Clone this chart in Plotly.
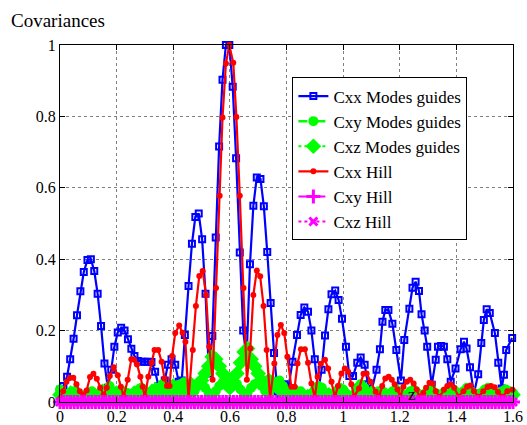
import numpy as np
import plotly.graph_objects as go

# ---- data ----
cxx_modes_x = [0.000,0.012,0.025,0.036,0.048,0.060,0.072,0.084,0.097,0.109,0.121,0.133,0.145,0.157,0.169,0.181,0.192,0.204,0.216,0.228,0.240,0.252,0.263,0.275,0.287,0.299,0.311,0.323,0.336,0.348,0.360,0.370,0.381,0.394,0.407,0.419,0.430,0.441,0.454,0.466,0.478,0.490,0.502,0.514,0.526,0.538,0.550,0.562,0.574,0.586,0.598,0.610,0.622,0.635,0.647,0.659,0.671,0.683,0.695,0.708,0.720,0.732,0.744,0.756,0.768,0.780,0.793,0.805,0.821,0.837,0.850,0.863,0.876,0.888,0.900,0.912,0.924,0.936,0.948,0.959,0.972,0.984,0.996,1.010,1.022,1.035,1.050,1.062,1.076,1.088,1.100,1.118,1.130,1.139,1.149,1.160,1.174,1.188,1.204,1.216,1.234,1.245,1.256,1.268,1.277,1.288,1.297,1.313,1.327,1.335,1.346,1.356,1.368,1.380,1.397,1.415,1.427,1.436,1.448,1.462,1.477,1.488,1.497,1.507,1.518,1.536,1.548,1.560,1.568,1.576,1.597]
cxx_modes_y = [0.034,0.045,0.071,0.120,0.177,0.243,0.310,0.364,0.398,0.400,0.367,0.303,0.213,0.108,0.040,0.090,0.155,0.195,0.208,0.200,0.176,0.149,0.129,0.115,0.113,0.113,0.113,0.112,0.085,0.045,0.030,0.060,0.104,0.120,0.104,0.057,0.060,0.188,0.325,0.443,0.518,0.528,0.456,0.303,0.080,0.185,0.461,0.716,0.903,1.000,1.000,0.883,0.683,0.419,0.200,0.123,0.386,0.550,0.629,0.625,0.548,0.420,0.277,0.137,0.030,0.020,0.050,0.030,0.113,0.188,0.244,0.265,0.253,0.200,0.120,0.030,0.090,0.186,0.260,0.302,0.312,0.286,0.233,0.155,0.073,0.073,0.110,0.125,0.104,0.050,0.030,0.090,0.148,0.225,0.258,0.258,0.219,0.146,0.060,0.174,0.261,0.320,0.337,0.311,0.246,0.200,0.155,0.048,0.118,0.155,0.157,0.155,0.120,0.057,0.094,0.148,0.169,0.150,0.097,0.024,0.078,0.165,0.230,0.260,0.249,0.193,0.110,0.038,0.076,0.146,0.179]

cxx_hill_x = [0.000,0.011,0.023,0.035,0.047,0.058,0.070,0.082,0.094,0.106,0.118,0.130,0.142,0.154,0.165,0.176,0.190,0.204,0.215,0.225,0.239,0.252,0.262,0.272,0.284,0.292,0.300,0.312,0.324,0.334,0.347,0.359,0.369,0.378,0.387,0.396,0.407,0.421,0.433,0.443,0.454,0.469,0.480,0.492,0.504,0.516,0.527,0.539,0.551,0.564,0.574,0.586,0.598,0.612,0.623,0.635,0.648,0.660,0.672,0.683,0.695,0.707,0.719,0.730,0.742,0.757,0.768,0.780,0.792,0.803,0.817,0.829,0.839,0.851,0.865,0.876,0.888,0.900,0.910,0.921,0.936,0.947,0.959,0.971,0.982,0.994,1.006,1.018,1.029,1.039,1.056,1.072,1.083,1.097,1.115,1.127,1.138,1.149,1.161,1.172,1.182,1.192,1.202,1.213,1.225,1.237,1.249,1.260,1.270,1.283,1.293,1.305,1.316,1.327,1.340,1.356,1.368,1.380,1.392,1.408,1.425,1.438,1.450,1.462,1.478,1.495,1.510,1.522,1.535,1.547,1.562,1.580,1.598]
cxx_hill_y = [0.010,0.030,0.057,0.068,0.068,0.050,0.030,0.020,0.032,0.070,0.079,0.065,0.040,0.020,0.040,0.073,0.097,0.075,0.043,0.015,0.062,0.120,0.118,0.105,0.071,0.043,0.015,0.071,0.110,0.146,0.146,0.113,0.066,0.045,0.045,0.129,0.193,0.214,0.194,0.169,0.008,0.146,0.269,0.353,0.367,0.300,0.155,0.062,0.319,0.578,0.797,0.948,1.000,0.950,0.798,0.578,0.319,0.062,0.150,0.300,0.368,0.352,0.269,0.146,0.010,0.108,0.188,0.216,0.193,0.127,0.043,0.043,0.108,0.148,0.148,0.110,0.052,0.013,0.071,0.107,0.118,0.094,0.057,0.015,0.045,0.080,0.094,0.085,0.050,0.015,0.038,0.079,0.080,0.057,0.029,0.015,0.045,0.066,0.071,0.062,0.050,0.035,0.015,0.043,0.057,0.062,0.052,0.035,0.015,0.025,0.040,0.054,0.052,0.030,0.015,0.034,0.045,0.050,0.040,0.015,0.030,0.043,0.046,0.030,0.015,0.030,0.042,0.045,0.041,0.028,0.015,0.030,0.034]

cxy_modes_y = [0.035,0.025,0.015,0.020,0.030,0.020,0.010,0.015,0.025,0.030,0.020,0.010,0.020,0.035,0.045,0.030,0.015,0.020,0.030,0.025,0.010,0.015,0.030,0.040,0.030,0.015,0.010,0.025,0.040,0.050,0.040,0.020,0.010,0.030,0.050,0.055,
               0.040,0.020,0.030,0.045,0.050,0.040,0.025,0.015,0.030,0.045,0.055,0.062,0.065,0.060,0.050,0.035,0.020,0.025,0.040,0.050,0.055,0.045,0.030,0.020,0.040,0.055,0.060,0.045,0.030,0.020,0.015,0.025,0.030,0.020,0.010,0.020,0.035,0.045,0.040,0.025,0.015,0.020,0.030,0.040,0.035,0.020,0.010,0.020,0.040,0.050,0.040,0.025,0.015,0.020,0.030,0.025,0.015,0.020,0.030,0.035,0.025,0.015,0.020,0.030,0.035,0.025,0.015,0.020,0.030,0.035,0.025,0.015,0.020,0.030,0.035,0.025,0.015,0.020,0.030,0.040,0.030,0.020,0.015,0.025,0.035,0.040,0.030,0.020,0.015,0.025,0.035,0.030,0.025]
cxz_modes_y = [0.020,0.010,0.015,0.025,0.020,0.010,0.005,0.015,0.020,0.015,0.010,0.020,0.030,0.020,0.010,0.015,0.025,0.020,0.010,0.005,0.015,0.025,0.030,0.020,0.010,0.015,0.030,0.035,0.025,0.015,0.020,0.035,0.045,0.035,0.020,0.030,0.045,0.050,0.040,0.050,
               0.060,0.080,0.100,0.127,0.120,0.100,0.080,0.050,0.040,0.050,0.080,0.110,0.140,0.150,0.120,0.100,0.080,0.060,0.050,
               0.060,0.055,0.045,0.035,0.030,0.020,0.015,0.020,0.025,0.020,0.010,0.015,0.020,0.025,0.020,0.010,0.015,0.020,0.015,0.010,0.020,0.025,0.020,0.010,0.015,0.020,0.015,0.010,0.020,0.025,0.015,0.010,0.015,0.020,0.015,0.010,0.020,0.020,0.015,0.010,0.015,0.020,0.015,0.010,0.020,0.025,0.015,0.010,0.015,0.020,0.015,0.010,0.020,0.025,0.015,0.010,0.015,0.020,0.020,0.010,0.015,0.020,0.025,0.020,0.015,0.020,0.025,0.020,0.015,0.020]
cxy_hill_y = [0.0] * 129
cxz_hill_y = [0.0] * 129

x_ticks = [0, 0.2, 0.4, 0.6, 0.8, 1.0, 1.2, 1.4, 1.6]
x_tick_labels = ["0", "0.2", "0.4", "0.6", "0.8", "1", "1.2", "1.4", "1.6"]
y_ticks = [0, 0.2, 0.4, 0.6, 0.8, 1.0]
y_tick_labels = ["0", "0.2", "0.4", "0.6", "0.8", "1"]

names = ["Cxx Modes guides", "Cxy Modes guides", "Cxz Modes guides", "Cxx Hill", "Cxy Hill", "Cxz Hill"]

FONT = "Liberation Serif"
BLUE = "#0000ff"
GREEN = "#00ff00"
RED = "#ff0000"
MAG = "#ff00ff"

fig = go.Figure()

fig.add_trace(go.Scatter(
    x=cxx_modes_x, y=cxx_modes_y, name=names[0], mode="lines+markers",
    line=dict(color=BLUE, width=2.2),
    marker=dict(symbol="square-open", size=6, color=BLUE, line=dict(width=2, color=BLUE)),
    cliponaxis=False))

gx1 = np.linspace(0, 1.6, len(cxy_modes_y))
fig.add_trace(go.Scatter(
    x=gx1, y=cxy_modes_y, name=names[1], mode="lines+markers",
    line=dict(color=GREEN, width=2.5, dash="dash"),
    marker=dict(symbol="circle", size=10, color=GREEN),
    cliponaxis=False))

gx2 = np.linspace(0, 1.6, len(cxz_modes_y))
fig.add_trace(go.Scatter(
    x=gx2, y=cxz_modes_y, name=names[2], mode="lines+markers",
    line=dict(color=GREEN, width=2, dash="dot"),
    marker=dict(symbol="diamond", size=12, color=GREEN),
    cliponaxis=False))

fig.add_trace(go.Scatter(
    x=cxx_hill_x, y=cxx_hill_y, name=names[3], mode="lines+markers",
    line=dict(color=RED, width=2.2),
    marker=dict(symbol="circle", size=6, color=RED),
    cliponaxis=False))

mx1 = np.linspace(0, 1.6, len(cxy_hill_y))
fig.add_trace(go.Scatter(
    x=mx1, y=cxy_hill_y, name=names[4], mode="lines+markers",
    line=dict(color=MAG, width=2, dash="dash"),
    marker=dict(symbol="cross-thin-open", size=10, color=MAG, line=dict(width=3, color=MAG)),
    cliponaxis=False))

mx2 = np.linspace(0, 1.6, len(cxz_hill_y))
fig.add_trace(go.Scatter(
    x=mx2, y=cxz_hill_y, name=names[5], mode="lines+markers",
    line=dict(color=MAG, width=2, dash="dot"),
    marker=dict(symbol="x-thin-open", size=8, color=MAG, line=dict(width=3, color=MAG)),
    cliponaxis=False))

axis_common = dict(
    showline=True, linecolor="black", linewidth=1, mirror="ticks",
    ticks="inside", ticklen=5, tickcolor="black",
    showgrid=True, gridcolor="#808080", griddash="dot", gridwidth=1,
    zeroline=False, automargin=False,
    tickfont=dict(family=FONT, size=16, color="black"),
)

fig.update_xaxes(range=[0, 1.6], tickvals=x_ticks, ticktext=x_tick_labels, **axis_common)
fig.update_yaxes(range=[0, 1], tickvals=y_ticks, ticktext=y_tick_labels, **axis_common)

fig.update_layout(
    width=527, height=425,
    margin=dict(l=60, r=14, t=45, b=23, autoexpand=False),
    paper_bgcolor="white", plot_bgcolor="white",
    font=dict(family=FONT, color="black"),
    showlegend=True,
    legend=dict(
        x=0.513, y=0.909, xanchor="left", yanchor="top",
        bgcolor="white", bordercolor="black", borderwidth=1,
        font=dict(family=FONT, size=17, color="black"),
        tracegroupgap=0, itemwidth=30,
    ),
    annotations=[
        dict(text="Covariances", xref="paper", yref="paper", x=-0.112, y=1.068,
             xanchor="left", yanchor="middle", showarrow=False,
             font=dict(family=FONT, size=19, color="black")),
        dict(text="z", xref="x", yref="y", x=1.244, y=0.022,
             xanchor="center", yanchor="middle", showarrow=False,
             font=dict(family=FONT, size=17, color="black")),
    ],
)

fig.write_html("out.html", config={"displayModeBar": False},
               post_script="document.body.style.margin='0px';document.body.style.overflow='hidden';")
